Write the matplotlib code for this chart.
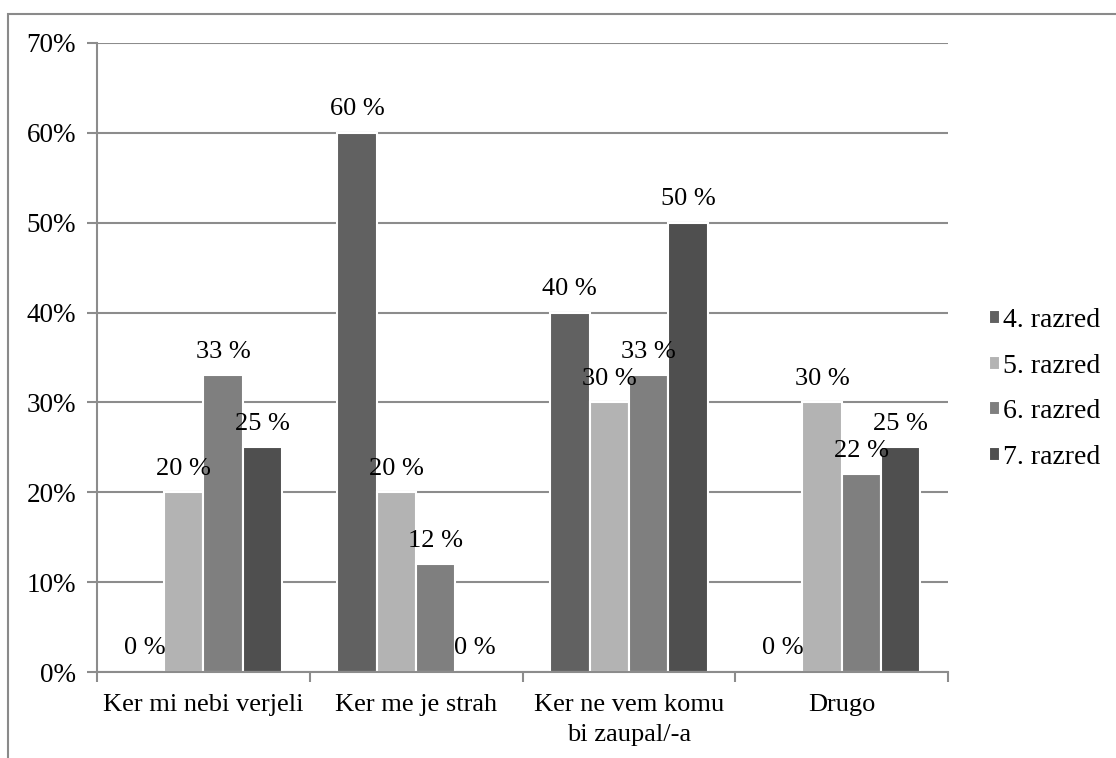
import matplotlib
matplotlib.use("Agg")
import matplotlib.pyplot as plt
from matplotlib.patches import Rectangle
import numpy as np

categories = ["Ker mi nebi verjeli", "Ker me je strah", "Ker ne vem komu\nbi zaupal/-a", "Drugo"]
series_names = ["4. razred", "5. razred", "6. razred", "7. razred"]
razred4 = [0, 60, 40, 0]
razred5 = [20, 20, 30, 30]
razred6 = [33, 12, 33, 22]
razred7 = [25, 0, 50, 25]
yticks = [0, 10, 20, 30, 40, 50, 60, 70]

series = [razred4, razred5, razred6, razred7]
colors = ["#616161", "#b3b3b3", "#7f7f7f", "#4f4f4f"]

plt.rcParams['font.family'] = ['Liberation Serif', 'DejaVu Serif']
FS = 19

fig = plt.figure(figsize=(11.16, 7.58), dpi=100)
W, H = 1116, 758
ax = fig.add_axes([97 / W, 1 - 672 / H, (948 - 97) / W, (672 - 43) / H])

# outer chart border (only top/left visible)
fig.patches.append(Rectangle((8 / W, -0.1), 1.2, (1 - 14 / H) + 0.1, transform=fig.transFigure,
                             fill=False, edgecolor="#8a8a8a", linewidth=1.5, zorder=0))

x = np.arange(len(categories))
bw = 0.185
grid_c = "#8c8c8c"
for i, (vals, name, c) in enumerate(zip(series, series_names, colors)):
    pos = x + (i - 1.5) * bw
    ax.bar(pos, vals, width=bw, color=c, edgecolor="white", linewidth=1.5, label=name, zorder=3)
    for px, v in zip(pos, vals):
        ax.annotate(f"{v} %", (px, v), xytext=(0, 9), textcoords="offset points",
                    ha="center", va="bottom", fontsize=FS, zorder=5)

ax.set_xlim(-0.5, len(categories) - 0.5)
ax.set_ylim(0, 70)
ax.set_yticks(yticks)
ax.set_yticklabels([f"{t}%" for t in yticks], fontsize=FS + 0.5)
ax.yaxis.grid(True, color=grid_c, linewidth=1.5, zorder=0)
ax.set_axisbelow(True)

ax.set_xticks(np.arange(len(categories) + 1) - 0.5)
ax.set_xticklabels([])
ax.set_xticks(x, minor=True)
ax.set_xticklabels(categories, minor=True, fontsize=FS, linespacing=1.45)
ax.tick_params(axis="x", which="minor", length=0, pad=16)
ax.tick_params(axis="x", which="major", length=7, color=grid_c, width=1.5)
ax.tick_params(axis="y", length=7, color=grid_c, width=1.5, pad=8)

for s in ["top", "right"]:
    ax.spines[s].set_visible(False)
for s in ["left", "bottom"]:
    ax.spines[s].set_color(grid_c)
    ax.spines[s].set_linewidth(1.5)
    ax.spines[s].set_zorder(4)

leg = ax.legend(loc="center left", bbox_to_anchor=(1.035, 0.45), frameon=False, fontsize=FS + 1,
                handlelength=0.4, handleheight=0.4, handletextpad=0.1, labelspacing=0.74,
                borderaxespad=0)

fig.savefig("out.png", dpi=100, facecolor="white")
